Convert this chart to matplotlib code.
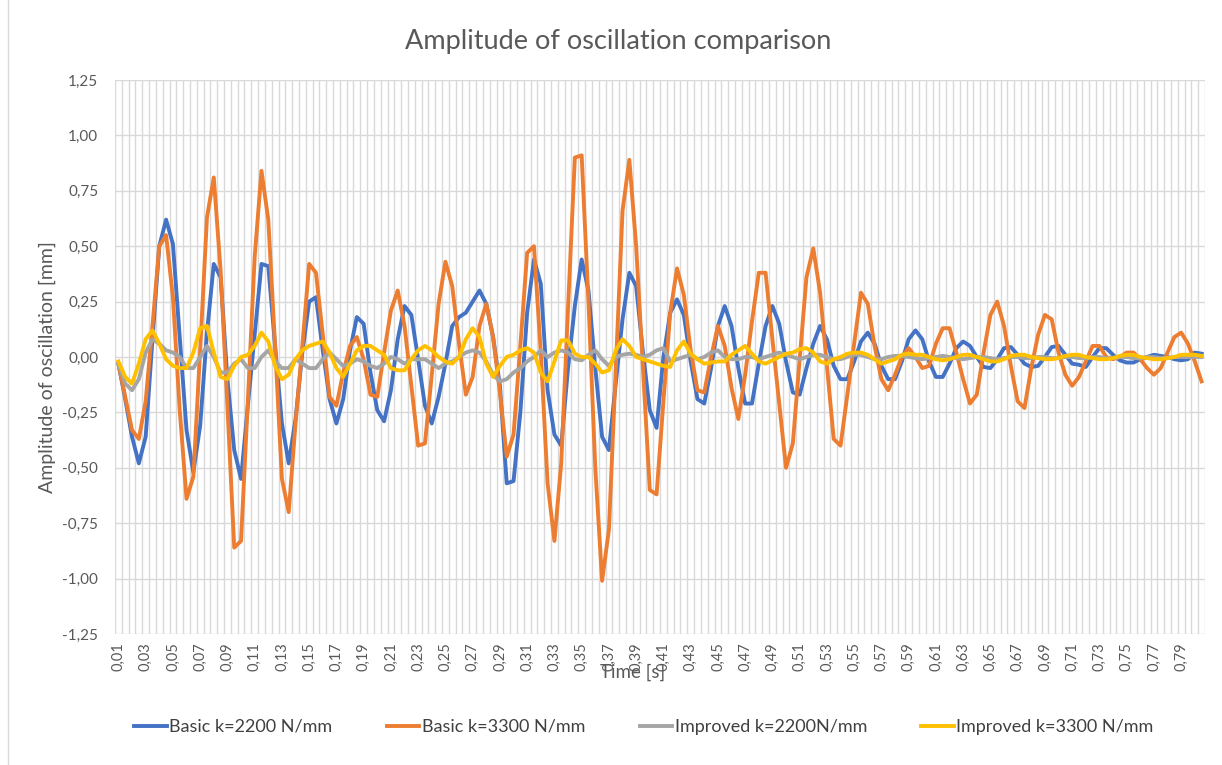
import numpy as np
import matplotlib
matplotlib.use("Agg")
import matplotlib.pyplot as plt
from matplotlib.patches import Rectangle

# ---------------- data ----------------
# time categories (s), 0.005 s step, 160 samples
time_s = np.round(np.arange(1, 161) * 0.005, 3)

x_tick_labels = ["0,01", "0,03", "0,05", "0,07", "0,09", "0,11", "0,13", "0,15", "0,17", "0,19",
                 "0,21", "0,23", "0,25", "0,27", "0,29", "0,31", "0,33", "0,35", "0,37", "0,39",
                 "0,41", "0,43", "0,45", "0,47", "0,49", "0,51", "0,53", "0,55", "0,57", "0,59",
                 "0,61", "0,63", "0,65", "0,67", "0,69", "0,71", "0,73", "0,75", "0,77", "0,79"]

y_ticks = [-1.25, -1.0, -0.75, -0.5, -0.25, 0.0, 0.25, 0.5, 0.75, 1.0, 1.25]
y_tick_labels = ["-1,25", "-1,00", "-0,75", "-0,50", "-0,25", "0,00", "0,25", "0,50", "0,75", "1,00", "1,25"]

basic_2200 = [
    -0.03, -0.19, -0.36, -0.48, -0.36, 0.08, 0.50, 0.62, 0.51, 0.09,
    -0.33, -0.52, -0.31, 0.11, 0.42, 0.36, -0.10, -0.42, -0.55, -0.22,
    0.10, 0.42, 0.41, 0.05, -0.30, -0.48, -0.28, 0.02, 0.25, 0.27,
    0.03, -0.19, -0.30, -0.19, 0.03, 0.18, 0.15, -0.07, -0.24, -0.29,
    -0.15, 0.08, 0.23, 0.19, -0.01, -0.22, -0.30, -0.18, -0.03, 0.14,
    0.18, 0.20, 0.25, 0.30, 0.24, 0.09, -0.13, -0.57, -0.56, -0.25,
    0.20, 0.44, 0.33, -0.15, -0.35, -0.40, -0.05, 0.23, 0.44, 0.30,
    -0.05, -0.36, -0.42, -0.12, 0.17, 0.38, 0.32, 0.02, -0.24, -0.32,
    0.00, 0.20, 0.26, 0.19, -0.02, -0.19, -0.21, -0.05, 0.14, 0.23,
    0.14, -0.05, -0.21, -0.21, -0.03, 0.14, 0.23, 0.15, -0.02, -0.16,
    -0.17, -0.05, 0.06, 0.14, 0.08, -0.04, -0.10, -0.10, -0.02, 0.07,
    0.11, 0.06, -0.04, -0.10, -0.10, -0.02, 0.08, 0.12, 0.08, -0.02,
    -0.09, -0.09, -0.03, 0.04, 0.07, 0.05, 0.00, -0.045, -0.05, -0.01,
    0.04, 0.045, 0.01, -0.03, -0.045, -0.04, 0.00, 0.045, 0.05, 0.01,
    -0.03, -0.035, -0.045, 0.00, 0.04, 0.04, 0.01, -0.015, -0.025, -0.025,
    -0.01, 0.00, 0.01, 0.005, 0.00, -0.01, -0.015, -0.01, 0.02, 0.015,
]

basic_3300 = [
    -0.03, -0.18, -0.33, -0.37, -0.20, 0.14, 0.50, 0.55, 0.27, -0.24,
    -0.64, -0.54, 0.03, 0.63, 0.81, 0.39, -0.22, -0.86, -0.83, -0.20,
    0.45, 0.84, 0.62, 0.05, -0.55, -0.70, -0.30, 0.05, 0.42, 0.38,
    0.10, -0.18, -0.22, -0.07, 0.05, 0.09, -0.01, -0.17, -0.18, 0.02,
    0.21, 0.30, 0.14, -0.13, -0.40, -0.39, -0.08, 0.24, 0.43, 0.32,
    0.06, -0.17, -0.09, 0.14, 0.24, 0.09, -0.16, -0.45, -0.35, 0.05,
    0.47, 0.50, 0.02, -0.57, -0.83, -0.48, 0.22, 0.90, 0.91, 0.25,
    -0.50, -1.01, -0.78, -0.06, 0.66, 0.89, 0.50, -0.05, -0.60, -0.62,
    -0.20, 0.20, 0.40, 0.28, 0.03, -0.15, -0.16, 0.00, 0.14, 0.05,
    -0.14, -0.28, -0.08, 0.16, 0.38, 0.38, 0.08, -0.21, -0.50, -0.39,
    -0.01, 0.36, 0.49, 0.29, -0.04, -0.37, -0.40, -0.17, 0.06, 0.29,
    0.24, 0.05, -0.10, -0.15, -0.08, 0.00, 0.04, 0.00, -0.05, -0.04,
    0.06, 0.13, 0.13, 0.02, -0.10, -0.21, -0.17, 0.02, 0.19, 0.25,
    0.14, -0.04, -0.20, -0.23, -0.05, 0.10, 0.19, 0.17, 0.02, -0.08,
    -0.13, -0.09, -0.02, 0.05, 0.05, 0.00, -0.01, 0.00, 0.02, 0.02,
    -0.01, -0.05, -0.08, -0.05, 0.02, 0.09, 0.11, 0.06, -0.02, -0.11,
]

improved_2200 = [
    -0.03, -0.12, -0.15, -0.10, 0.02, 0.08, 0.06, 0.03, 0.02, 0.00,
    -0.05, -0.05, 0.00, 0.05, 0.00, -0.07, -0.07, -0.03, -0.01, -0.05,
    -0.05, 0.00, 0.03, -0.02, -0.05, -0.05, -0.01, -0.03, -0.05, -0.05,
    -0.01, 0.02, -0.01, -0.04, -0.03, -0.01, -0.02, -0.04, -0.05, -0.03,
    0.00, -0.01, -0.03, -0.01, -0.01, -0.01, -0.03, -0.05, -0.03, -0.02,
    0.00, 0.02, 0.03, 0.02, -0.02, -0.08, -0.11, -0.10, -0.07, -0.05,
    -0.02, 0.00, 0.03, 0.00, 0.02, 0.03, 0.02, -0.01, -0.015, 0.01,
    0.03, -0.01, -0.04, 0.00, 0.01, 0.015, 0.01, 0.00, 0.01, 0.03,
    0.04, -0.02, -0.01, 0.00, 0.01, -0.01, 0.00, 0.02, 0.03, 0.00,
    -0.01, -0.01, 0.00, 0.00, -0.01, 0.00, 0.01, 0.02, 0.01, 0.00,
    -0.01, 0.00, 0.01, 0.01, 0.00, -0.01, -0.01, 0.00, 0.01, 0.01,
    0.00, -0.01, -0.01, 0.00, 0.005, 0.005, 0.00, -0.005, -0.01, -0.005,
    0.00, 0.005, 0.00, -0.005, -0.01, -0.005, 0.00, 0.00, -0.005, -0.01,
    -0.005, 0.00, 0.00, -0.005, -0.005, 0.00, 0.00, -0.005, -0.005, 0.00,
    0.00, -0.005, -0.005, 0.00, 0.00, -0.005, -0.005, 0.00, 0.00, -0.005,
    -0.005, 0.00, 0.00, -0.005, -0.005, 0.00, 0.00, 0.00, 0.00, 0.00,
]

improved_3300 = [
    -0.02, -0.09, -0.12, -0.03, 0.08, 0.12, 0.06, -0.01, -0.04, -0.05,
    -0.05, 0.02, 0.13, 0.14, 0.02, -0.09, -0.10, -0.04, 0.00, 0.01,
    0.05, 0.11, 0.07, -0.04, -0.10, -0.08, -0.01, 0.03, 0.05, 0.06,
    0.07, 0.02, -0.05, -0.09, -0.03, 0.03, 0.05, 0.05, 0.03, 0.01,
    -0.05, -0.06, -0.06, -0.01, 0.03, 0.05, 0.03, 0.00, -0.02, -0.03,
    0.00, 0.08, 0.13, 0.09, -0.03, -0.09, -0.04, 0.00, 0.01, 0.03,
    0.04, 0.02, -0.07, -0.11, -0.02, 0.075, 0.075, 0.015, 0.00, 0.00,
    -0.03, -0.07, -0.06, 0.03, 0.08, 0.05, 0.00, -0.01, -0.02, -0.03,
    -0.04, -0.045, 0.03, 0.07, 0.015, -0.01, -0.03, -0.025, -0.02, -0.02,
    0.01, 0.03, 0.05, 0.015, -0.02, -0.03, -0.015, 0.00, 0.015, 0.02,
    0.035, 0.04, 0.02, -0.02, -0.03, -0.01, 0.00, 0.015, 0.02, 0.02,
    0.01, -0.01, -0.03, -0.02, -0.01, 0.01, 0.015, 0.01, 0.01, 0.00,
    -0.01, -0.015, -0.01, 0.00, 0.01, 0.01, 0.00, -0.01, -0.02, -0.02,
    -0.01, 0.005, 0.01, 0.01, 0.00, -0.005, -0.01, -0.01, -0.005, 0.005,
    0.01, 0.01, 0.00, -0.005, -0.01, -0.01, -0.005, 0.005, 0.01, 0.01,
    0.00, -0.005, -0.01, -0.01, -0.005, 0.00, 0.01, 0.01, 0.01, 0.005,
]

series_names = ["Basic k=2200 N/mm", "Basic k=3300 N/mm", "Improved k=2200N/mm", "Improved k=3300 N/mm"]
series_values = [basic_2200, basic_3300, improved_2200, improved_3300]
series_colors = ["#4472C4", "#ED7D31", "#A5A5A5", "#FFC000"]

# ---------------- figure ----------------
plt.rcParams['font.family'] = ['Lato', 'DejaVu Sans']
W, H = 1222, 765
fig = plt.figure(figsize=(W / 100, H / 100), dpi=100)
ax = fig.add_axes([115 / W, 1 - 634 / H, (1205 - 115) / W, (634 - 80) / H])

cat = np.arange(1, len(time_s) + 1)
for name, vals, col in zip(series_names, series_values, series_colors):
    ax.plot(cat, vals, color=col, lw=2.8, label=name, solid_joinstyle='round', zorder=3)

ax.set_xlim(0.5, len(time_s) + 0.5)
ax.set_ylim(-1.25, 1.25)

ax.set_xticks(cat[::4])
ax.set_xticklabels(x_tick_labels, rotation=90, fontsize=10.5, color="#595959")
ax.set_xticks(np.arange(0.5, len(time_s) + 1, 1), minor=True)
ax.set_yticks(y_ticks)
ax.set_yticklabels(y_tick_labels, fontsize=11, color="#595959")
ax.tick_params(axis='both', which='both', length=0)
ax.tick_params(axis='x', pad=6)
ax.tick_params(axis='y', pad=12)

ax.grid(True, axis='y', which='major', color="#D9D9D9", lw=1.0, zorder=0)
ax.grid(True, axis='x', which='minor', color="#D9D9D9", lw=1.0, zorder=0)
ax.grid(False, axis='x', which='major')
for s in ax.spines.values():
    s.set_visible(False)
ax.set_axisbelow(True)

fig.text(618 / W, 1 - 42 / H, "Amplitude of oscillation comparison", ha='center', va='center',
         fontsize=19.5, color="#595959")
fig.text(47 / W, 1 - 367 / H, "Amplitude of oscillation [mm]", ha='center', va='center',
         rotation=90, fontsize=14, color="#595959")
fig.text(633 / W, 1 - 672 / H, "Time [s]", ha='center', va='center', fontsize=13.5, color="#595959")

fig.legend(loc='center', bbox_to_anchor=(644 / W, 1 - 727 / H), ncol=4, frameon=False,
           fontsize=13, handlelength=1.8, handletextpad=0.15, columnspacing=3.0,
           labelcolor="#404040")

fig.patches.append(Rectangle((8 / W, -0.01), 1.02, 1.02, transform=fig.transFigure,
                             fill=False, edgecolor="#D9D9D9", lw=1.0))

fig.savefig("out.png", dpi=100, facecolor="white")
